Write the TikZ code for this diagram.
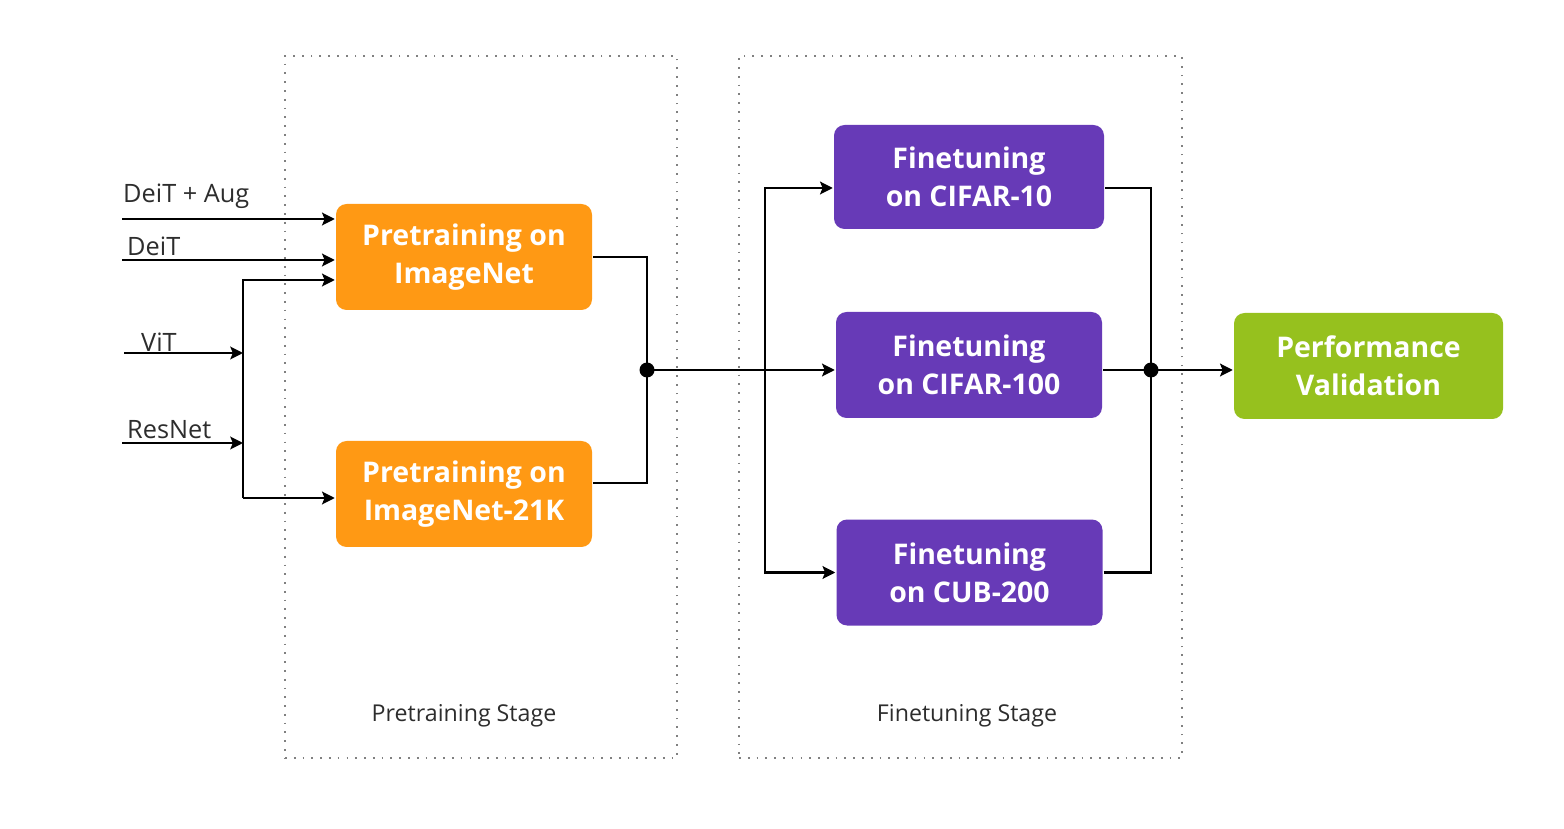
\documentclass[tikz,border=0pt]{standalone}
\usepackage{fontspec}
\setmainfont{Open Sans}
\usetikzlibrary{arrows.meta}
\definecolor{preorange}{RGB}{255,153,20}
\definecolor{finpurple}{RGB}{103,58,183}
\definecolor{valgreen}{RGB}{150,193,30}
\definecolor{labelgray}{RGB}{45,45,45}

\begin{document}
\begin{tikzpicture}[
    line width=0.7pt,
    arr/.style={-{Stealth[length=3.6pt,width=3.6pt,inset=0.7pt]}},
    stagebox/.style={draw=gray, dotted, line width=0.5pt, minimum width=#1, minimum height=7.02cm},
    task/.style={rounded corners=3pt, text=white, align=center, minimum height=1.06cm,
        font=\fontsize{8.1}{10.8}\selectfont\bfseries, inner sep=0pt},
    pretask/.style={task, fill=preorange, minimum width=2.56cm},
    fintask/.style={task, fill=finpurple, minimum width=2.66cm},
    inlabel/.style={anchor=base west, inner sep=0pt, text=labelgray, font=\fontsize{7.2}{8}\selectfont},
    stagelabel/.style={anchor=base, inner sep=0pt, text=labelgray, font=\fontsize{6.6}{8}\selectfont}
]
            \useasboundingbox (0,0) rectangle (15.64,8.28);
            % stages
            \node[stagebox=3.92cm] (preStage) at (4.81,4.21) {};
            \node[stagebox=4.43cm] (finStage) at (9.605,4.21) {};
            \node[stagelabel] (preStageLbl) at (4.64,1.07) {Pretraining Stage};
            \node[stagelabel] (finStageLbl) at (9.67,1.07) {Finetuning Stage};
            % boxes
            \node[pretask] (pre1) at (4.64,5.71) {Pretraining on\\ImageNet};
            \node[pretask] (pre2) at (4.64,3.34) {Pretraining on\\ImageNet-21K};
            \node[fintask, minimum width=2.70cm, minimum height=1.04cm] (fin1) at (9.69,6.51) {Finetuning\\on CIFAR-10};
            \node[fintask] (fin2) at (9.69,4.63) {Finetuning\\on CIFAR-100};
            \node[fintask] (fin3) at (9.695,2.555) {Finetuning\\on CUB-200};
            \node[task, fill=valgreen, minimum width=2.69cm] (perf) at (13.685,4.62) {Performance\\Validation};
            % inputs
            \node[inlabel] (lAug) at (1.22,6.25) {DeiT + Aug};
            \node[inlabel] (lDeiT) at (1.26,5.72) {DeiT};
            \node[inlabel] (lViT) at (1.40,4.76) {ViT};
            \node[inlabel] (lRes) at (1.26,3.90) {ResNet};
            \coordinate (inAug) at (1.22,6.09);
            \coordinate (inDeiT) at (1.22,5.68);
            \coordinate (inViT) at (1.24,4.75);
            \coordinate (inRes) at (1.22,3.85);
            \coordinate (mTop) at (2.43,5.48);
            \coordinate (mBot) at (2.43,3.30);
            \draw[arr] (inAug) -- (inAug -| pre1.west);
            \draw[arr] (inDeiT) -- (inDeiT -| pre1.west);
            \draw[arr] (inViT) -- (inViT -| mTop);
            \draw[arr] (inRes) -- (inRes -| mTop);
            \draw[arr] (mBot) -- (mTop) -- (mTop -| pre1.west);
            \draw[arr] (mBot) -- (mBot -| pre2.west);
            % pretraining to finetuning
            \coordinate (joinA) at (6.47,4.58);
            \coordinate (split) at (7.65,4.58);
            \draw (pre1.east) -| (joinA);
            \draw ([yshift=0.11cm]pre2.east) -| (joinA);
            \draw[arr] (joinA) -- (fin2.west |- joinA);
            \draw[arr] (split) |- ([yshift=-0.11cm]fin1.west);
            \draw[arr] (split) |- (fin3.west);
            \fill (joinA) circle (0.075);
            % finetuning to validation
            \coordinate (joinB) at (11.51,4.58);
            \draw ([yshift=-0.11cm]fin1.east) -| (joinB);
            \draw (fin3.east) -| (joinB);
            \draw (fin2.east |- joinB) -- (joinB);
            \draw[arr] (joinB) -- (perf.west |- joinB);
            \fill (joinB) circle (0.075);
        \end{tikzpicture}
\end{document}
